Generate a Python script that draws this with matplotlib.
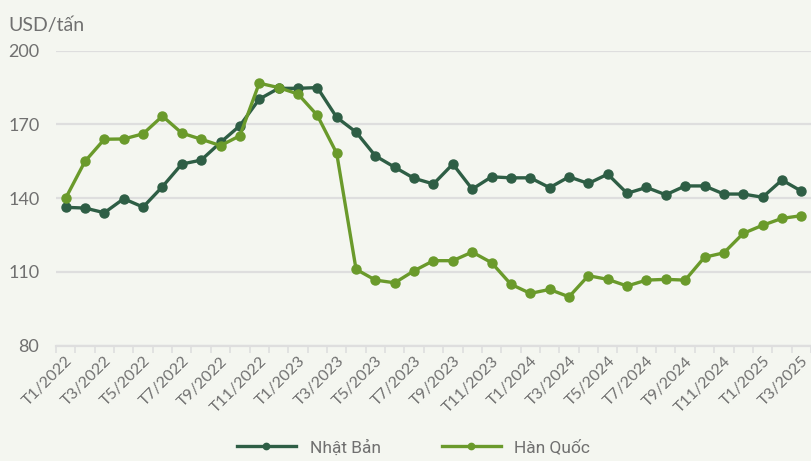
import matplotlib.pyplot as plt
import numpy as np

# Giá xuất khẩu theo tháng, T1/2022 - T3/2025
thang = []
for nam in [2022, 2023, 2024, 2025]:
    for t in range(1, 13):
        thang.append("T%d/%d" % (t, nam))
thang = thang[:39]

nhat_ban = [136.3, 136.0, 134.1, 139.8, 136.4, 144.7, 153.9, 155.5, 162.7, 169.5,
            180.3, 184.7, 184.7, 185.0, 172.9, 166.9, 157.2, 152.6, 148.1, 145.8,
            153.9, 143.7, 148.7, 148.3, 148.3, 144.3, 148.7, 146.0, 149.8, 142.0,
            144.4, 141.4, 145.0, 145.0, 141.7, 141.7, 140.4, 147.4, 142.9]
han_quoc = [140.0, 155.0, 164.0, 164.1, 166.2, 173.4, 166.5, 164.0, 161.4, 165.4,
            186.8, 185.0, 182.4, 173.7, 158.3, 111.1, 106.7, 105.6, 110.5, 114.6,
            114.6, 118.1, 113.8, 105.0, 101.3, 102.9, 99.9, 108.5, 107.0, 104.3,
            106.7, 107.0, 106.7, 116.0, 117.8, 125.7, 129.0, 131.8, 132.9]

bg = "#f4f6f0"
xam = "#707070"
luoi = "#dedede"

fig = plt.figure(figsize=(8.11, 4.61), dpi=100, facecolor=bg)
ax = fig.add_axes([0.069, 0.25, 0.931, 0.64], facecolor=bg)

x = np.arange(len(thang))
ax.plot(x, nhat_ban, color="#2e5e45", lw=2.4, marker="o", ms=6.5, label="Nhật Bản", zorder=3)
ax.plot(x, han_quoc, color="#6a9a2b", lw=2.4, marker="o", ms=6.5, label="Hàn Quốc", zorder=3)

ax.set_ylim(80, 200)
ax.set_xlim(-0.5, 38.26)
ax.set_yticks([80, 110, 140, 170, 200])
ax.grid(axis="y", color=luoi, lw=1.6)
ax.set_axisbelow(True)
for s in ["top", "right", "left"]:
    ax.spines[s].set_visible(False)
ax.spines["bottom"].set_color(luoi)
ax.spines["bottom"].set_linewidth(1.6)

ax.tick_params(axis="y", length=0, pad=12, labelsize=13, labelcolor=xam)
ax.set_xticks(np.arange(-0.5, 39, 1), minor=True)
ax.tick_params(axis="x", which="minor", length=5, color=luoi, width=1.2)
ax.set_xticks(x[::2])
ax.set_xticklabels(thang[::2], rotation=45, ha="right", va="top", rotation_mode="anchor")
ax.tick_params(axis="x", which="major", length=0, pad=6, labelsize=11.5, labelcolor=xam)
for lb in ax.get_xticklabels() + ax.get_yticklabels():
    lb.set_family("Lato")

fig.text(0.01, 0.945, "USD/tấn", fontsize=14, color=xam, family="Lato", va="center")

leg = fig.legend(loc="center", bbox_to_anchor=(0.51, 0.03), ncol=2, frameon=False,
                 handlelength=3.4, columnspacing=3.5, markerscale=0.7,
                 prop={"family": "Roboto", "size": 12.5})
for t in leg.get_texts():
    t.set_color(xam)

fig.savefig("out.png", dpi=100, facecolor=bg)
